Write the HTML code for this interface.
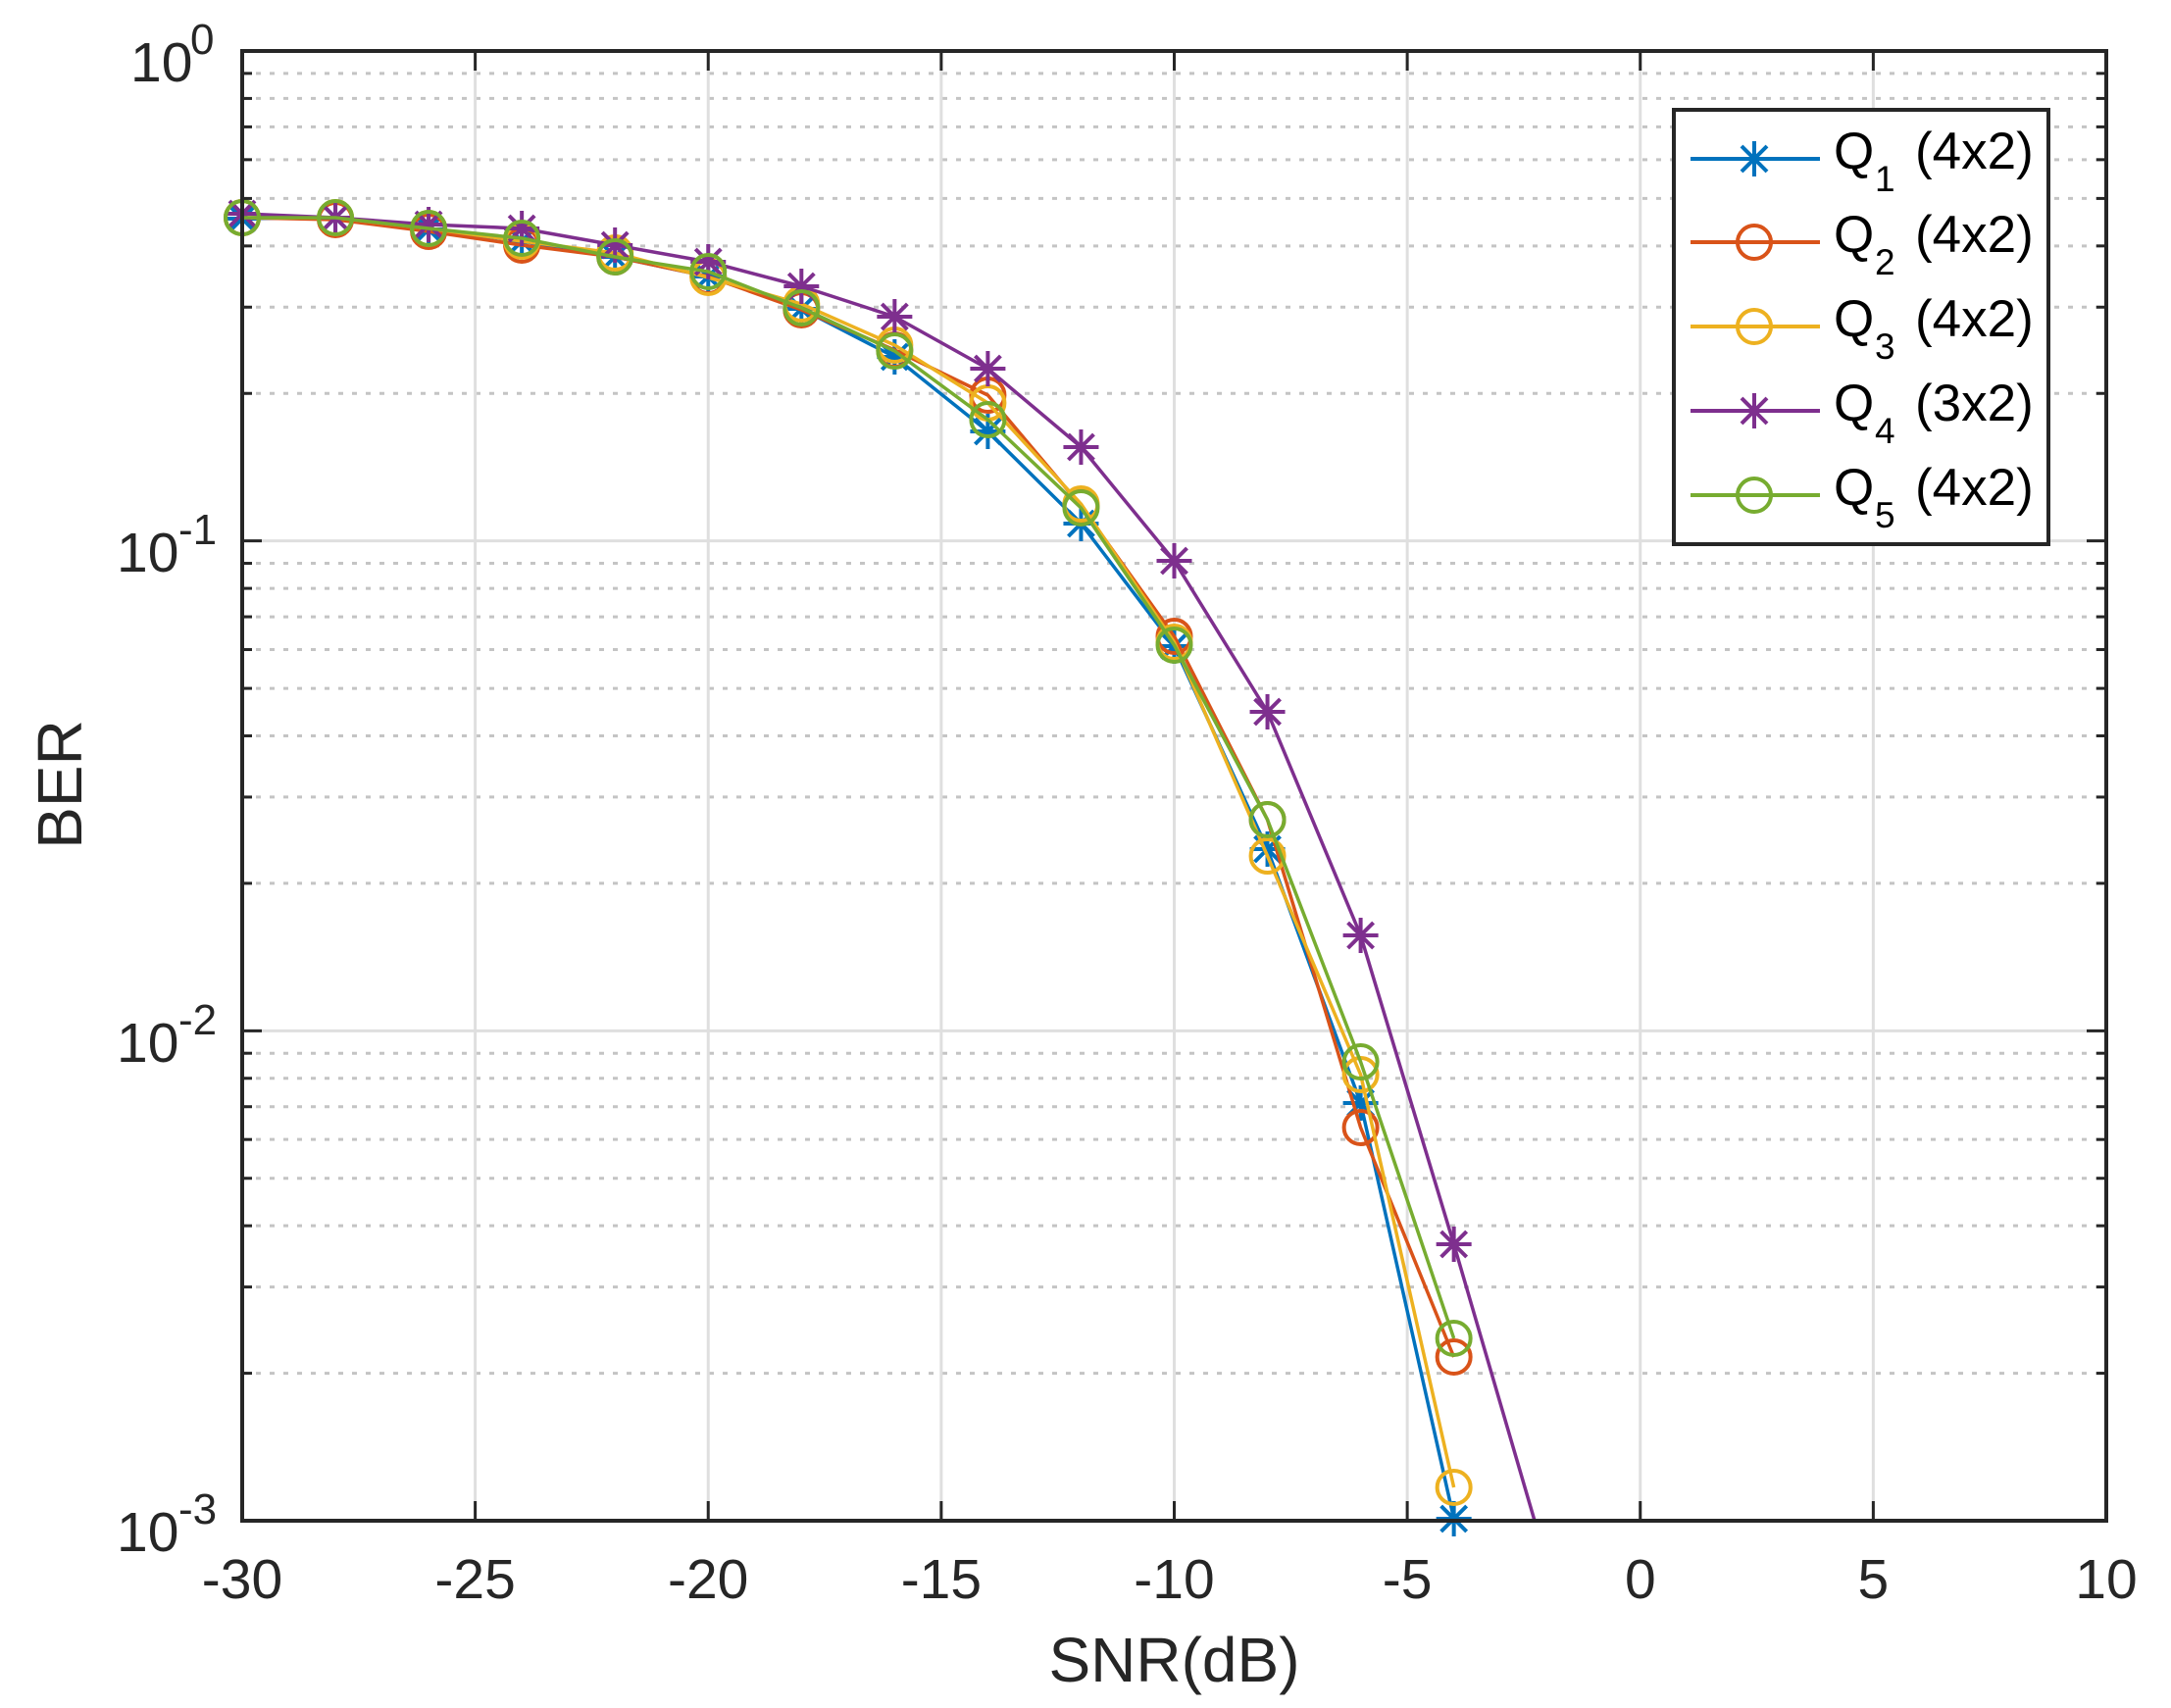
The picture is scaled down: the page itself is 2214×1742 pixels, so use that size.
<!DOCTYPE html>
<html><head><meta charset="utf-8"><style>
html,body{margin:0;padding:0;background:#fff;}
svg{display:block;}
text{font-family:"Liberation Sans",Arial,sans-serif;fill:#262626;}
</style></head><body>
<svg id="s" xmlns="http://www.w3.org/2000/svg" width="2214" height="1742" viewBox="0 0 2214 1742">
<rect x="0" y="0" width="2214" height="1742" fill="#fff"/>
<defs><clipPath id="c"><rect x="247" y="52" width="1901" height="1499"/></clipPath></defs>
<g id="grid"></g>
<g id="series"></g>
<g id="axes"></g>
<g font-size="57" text-anchor="middle">
<text x="247" y="1630">-30</text>
<text x="484.6" y="1630">-25</text>
<text x="722.2" y="1630">-20</text>
<text x="959.9" y="1630">-15</text>
<text x="1197.5" y="1630">-10</text>
<text x="1435.1" y="1630">-5</text>
<text x="1672.8" y="1630">0</text>
<text x="1910.4" y="1630">5</text>
<text x="2148" y="1630">10</text>
</g>
<g font-size="57">
<text x="133" y="83">10</text><text x="194" y="55" font-size="44">0</text>
<text x="119" y="583">10</text><text x="182" y="555" font-size="44">-1</text>
<text x="119" y="1083">10</text><text x="182" y="1055" font-size="44">-2</text>
<text x="119" y="1582">10</text><text x="182" y="1554" font-size="44">-3</text>
</g>
<text x="1197.5" y="1715" font-size="64" text-anchor="middle">SNR(dB)</text>
<text transform="translate(83,800) rotate(-90)" font-size="64" text-anchor="middle">BER</text>
<g id="legend">
<rect x="1707" y="112" width="382" height="443" fill="#fff" stroke="#262626" stroke-width="4"/>
</g>
<g font-size="53" fill="#000">
<text x="1870" y="172" style="fill:#000">Q<tspan font-size="37" x="1912" y="195">1</tspan><tspan x="1953" y="172">(4x2)</tspan></text>
<text x="1870" y="257" style="fill:#000">Q<tspan font-size="37" x="1912" y="280">2</tspan><tspan x="1953" y="257">(4x2)</tspan></text>
<text x="1870" y="343" style="fill:#000">Q<tspan font-size="37" x="1912" y="366">3</tspan><tspan x="1953" y="343">(4x2)</tspan></text>
<text x="1870" y="429" style="fill:#000">Q<tspan font-size="37" x="1912" y="452">4</tspan><tspan x="1953" y="429">(3x2)</tspan></text>
<text x="1870" y="515" style="fill:#000">Q<tspan font-size="37" x="1912" y="538">5</tspan><tspan x="1953" y="515">(4x2)</tspan></text>
</g>
<g id="legmk"></g>
</svg>
<script>
var NS="http://www.w3.org/2000/svg";
function el(p,t,a){var e=document.createElementNS(NS,t);for(var k in a)e.setAttribute(k,a[k]);p.appendChild(e);return e;}
var L=247,R=2148,T=52,B=1551,DEC=(B-T)/3,DX=(R-L)/40;
function X(s){return L+(s+30)*DX;}
var g=document.getElementById('grid'),ax=document.getElementById('axes');
for(var d=1;d<=3;d++){for(var k=2;k<=9;k++){var y=T+(d-Math.log10(k))*DEC;
 el(g,'line',{x1:L,x2:R,y1:y,y2:y,stroke:'#c4c4c4','stroke-width':3,'stroke-dasharray':'5 9'});
 el(ax,'line',{x1:L,x2:L+10,y1:y,y2:y,stroke:'#262626','stroke-width':3});
 el(ax,'line',{x1:R-10,x2:R,y1:y,y2:y,stroke:'#262626','stroke-width':3});}}
for(var s=-25;s<=5;s+=5){el(g,'line',{x1:X(s),x2:X(s),y1:T,y2:B,stroke:'#dfdfdf','stroke-width':3});}
for(var d=1;d<=2;d++){var y=T+d*DEC;el(g,'line',{x1:L,x2:R,y1:y,y2:y,stroke:'#dfdfdf','stroke-width':3});}
for(var s=-30;s<=10;s+=5){el(ax,'line',{x1:X(s),x2:X(s),y1:B,y2:B-20,stroke:'#262626','stroke-width':3});el(ax,'line',{x1:X(s),x2:X(s),y1:T,y2:T+20,stroke:'#262626','stroke-width':3});}
for(var d=0;d<=3;d++){var y=T+d*DEC;el(ax,'line',{x1:L,x2:L+20,y1:y,y2:y,stroke:'#262626','stroke-width':3});el(ax,'line',{x1:R-20,x2:R,y1:y,y2:y,stroke:'#262626','stroke-width':3});}
el(ax,'rect',{x:L,y:T,width:R-L,height:B-T,fill:'none',stroke:'#262626','stroke-width':4});
var S=[
{c:'#0072BD',m:'*',y:[223,222,234,246,262,282,315,364,440,534,659,866,1125,1549]},
{c:'#D95319',m:'o',y:[222,224,236,250,262,282,316,357,403,516,649,836,1150,1384]},
{c:'#EDB120',m:'o',y:[222,222,233,246,258,283,310,352,411,514,655,873,1096,1517]},
{c:'#7E2F8E',m:'*',y:[218,222,229,233,250,267,292,323,376,456,572,726,954,1269],ext:[1577.7,1594.5]},
{c:'#77AC30',m:'o',y:[222,222,233,243,262,277,314,358,428,518,658,836,1083,1365]}];
var sg=document.getElementById('series');
function marker(p,m,c,x,y){
 if(m=='o'){el(p,'circle',{cx:x,cy:y,r:17,fill:'none',stroke:c,'stroke-width':4});}
 else{var r=18,q=13;
  el(p,'path',{d:'M'+(x-r)+' '+y+'H'+(x+r)+'M'+x+' '+(y-r)+'V'+(y+r)+'M'+(x-q)+' '+(y-q)+'L'+(x+q)+' '+(y+q)+'M'+(x-q)+' '+(y+q)+'L'+(x+q)+' '+(y-q),stroke:c,'stroke-width':4,fill:'none'});}
}
S.forEach(function(o){
 var pts=o.y.map(function(v,i){return X(-30+2*i)+','+v;});
 if(o.ext)pts.push(o.ext[0]+','+o.ext[1]);
 el(sg,'polyline',{points:pts.join(' '),fill:'none',stroke:o.c,'stroke-width':3.5,'clip-path':'url(#c)','stroke-linejoin':'round'});
 o.y.forEach(function(v,i){marker(sg,o.m,o.c,X(-30+2*i),v);});
});
var lg=document.getElementById('legmk');
var ry=[162,247,333,419,505];
S.forEach(function(o,i){
 el(lg,'line',{x1:1724,x2:1856,y1:ry[i],y2:ry[i],stroke:o.c,'stroke-width':4});
 marker(lg,o.m,o.c,1789,ry[i]);
});
</script>
</body></html>
